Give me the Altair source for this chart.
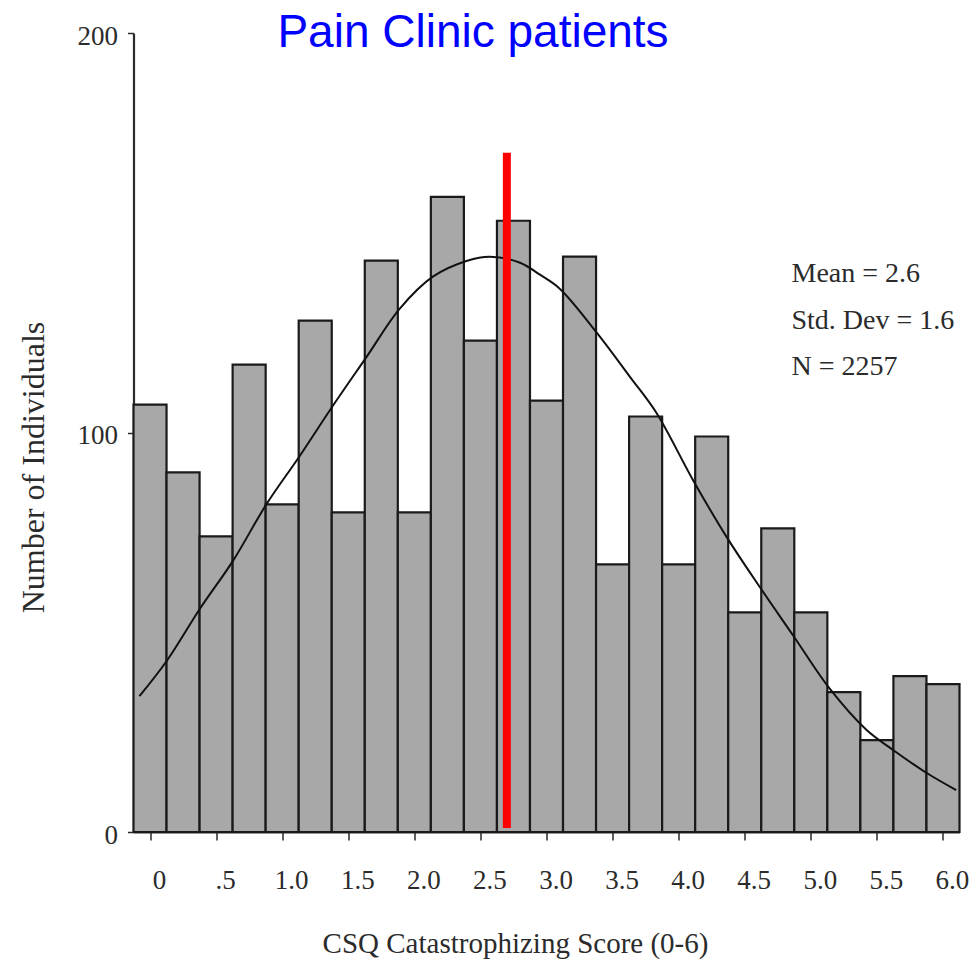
import altair as alt
import pandas as pd

# Histogram bins (centre of each 0.25-wide bin) and counts
bin_centers = [0.0, 0.25, 0.5, 0.75, 1.0, 1.25, 1.5, 1.75, 2.0, 2.25, 2.5, 2.75,
               3.0, 3.25, 3.5, 3.75, 4.0, 4.25, 4.5, 4.75, 5.0, 5.25, 5.5, 5.75, 6.0]
counts = [107, 90, 74, 117, 82, 128, 80, 143, 80, 159, 123, 153,
          108, 144, 67, 104, 67, 99, 55, 76, 55, 35, 23, 39, 37]
bin_width = 0.25

# Fitted normal curve, sampled along the score axis
curve_x = [-0.08, 0.13, 0.38, 0.63, 0.88, 1.13, 1.39, 1.64, 1.89, 2.14, 2.40, 2.57,
           2.80, 2.95, 3.10, 3.38, 3.63, 3.83, 4.11, 4.36, 4.61, 4.87, 5.14, 5.42,
           5.62, 5.88, 6.10]
curve_y = [34, 43, 56, 68, 82, 94, 107, 119, 131, 139, 143, 144,
           142.5, 139.5, 136, 125, 114, 105, 88, 74, 61.5, 49, 36, 25.6,
           20.6, 14.7, 10.5]

# Marker line
marker_x = [2.7]
marker_top = [170]
marker_bottom = [1]

# Axis ticks and labels
x_tick_values = [0, 0.5, 1.0, 1.5, 2.0, 2.5, 3.0, 3.5, 4.0, 4.5, 5.0, 5.5, 6.0]
x_tick_labels = ["0", ".5", "1.0", "1.5", "2.0", "2.5", "3.0", "3.5", "4.0",
                 "4.5", "5.0", "5.5", "6.0"]
y_tick_values = [0, 100, 200]

stats_lines = ["Mean = 2.6", "Std. Dev = 1.6", "N = 2257"]
title_text = "Pain Clinic patients"

SERIF = "Liberation Serif"
SANS = "Liberation Sans"
INK = "#2b2b2b"

bars_df = pd.DataFrame({
    "lo": [c - bin_width / 2 for c in bin_centers],
    "hi": [c + bin_width / 2 for c in bin_centers],
    "count": counts,
    "base": [0] * len(counts),
})
curve_df = pd.DataFrame({"score": curve_x, "fit": curve_y})
marker_df = pd.DataFrame({"x": marker_x, "top": marker_top, "bottom": marker_bottom})

label_array = "[" + ",".join("'" + s + "'" for s in x_tick_labels) + "]"

x_scale = alt.Scale(domain=[-0.125, 6.125], nice=False, zero=False)
y_scale = alt.Scale(domain=[0, 200], nice=False)

x_axis = alt.Axis(
    values=x_tick_values,
    labelExpr=label_array + "[round(datum.value * 2)]",
    title="CSQ Catastrophizing Score (0-6)",
    titleFont=SERIF, titleFontSize=29, titleFontWeight="normal", titleColor=INK,
    titleX=381.5, titleY=120, titleBaseline="alphabetic", titleAnchor="start",
    titleAlign="center",
    labelFont=SERIF, labelFontSize=27, labelColor=INK,
    labelPadding=27, labelOffset=9, labelBaseline="top",
    tickSize=8, tickColor=INK, tickWidth=1.5,
    domainColor=INK, domainWidth=2.2, grid=False, labelFlush=False,
)
y_axis = alt.Axis(
    values=y_tick_values,
    title="Number of Individuals",
    titleFont=SERIF, titleFontSize=32, titleFontWeight="normal", titleColor=INK,
    titleX=-90, titleY=434, titleAngle=270, titleBaseline="alphabetic",
    titleAlign="center", titleAnchor="start",
    labelFont=SERIF, labelFontSize=27, labelColor=INK,
    labelPadding=10, labelOffset=3, labelBaseline="middle",
    tickSize=6, tickColor=INK, tickWidth=1.5,
    domainColor=INK, domainWidth=2.2, grid=False, labelFlush=False,
)

bars = alt.Chart(bars_df).mark_bar(
    color="#a8a8a8", stroke="#1a1a1a", strokeWidth=2.2
).encode(
    x=alt.X("lo:Q", scale=x_scale, axis=x_axis),
    x2="hi:Q",
    y=alt.Y("count:Q", scale=y_scale, axis=y_axis),
    y2="base:Q",
)

curve = alt.Chart(curve_df).mark_line(
    color="#111111", strokeWidth=2, interpolate="catmull-rom"
).encode(
    x=alt.X("score:Q", scale=x_scale),
    y=alt.Y("fit:Q", scale=y_scale),
)

marker = alt.Chart(marker_df).mark_rule(
    color="#ff0000", strokeWidth=8, strokeCap="butt"
).encode(
    x=alt.X("x:Q", scale=x_scale),
    y=alt.Y("top:Q", scale=y_scale),
    y2="bottom:Q",
)

# Summary statistics block, one line per entry
stats = alt.Chart(pd.DataFrame({"t": ["\n".join(stats_lines)]})).mark_text(
    font=SERIF, fontSize=28, color=INK, align="left", baseline="alphabetic",
    lineBreak="\n", lineHeight=46.5,
).encode(
    text="t:N",
    x=alt.value(658),
    y=alt.value(249),
)

title = alt.Chart(pd.DataFrame({"t": [title_text]})).mark_text(
    font=SANS, fontSize=46, color="#0000ff", align="center", baseline="alphabetic"
).encode(
    text="t:N",
    x=alt.value(339.5),
    y=alt.value(14),
)

chart = alt.layer(bars, curve, marker, stats, title).properties(
    width=826,
    height=799,
    autosize=alt.AutoSizeParams(type="none"),
    padding={"left": 133.5, "top": 33, "right": 13.5, "bottom": 131},
    background="white",
).configure_view(stroke=None)

chart.save("out.html", embed_options={"renderer": "svg", "actions": False})
